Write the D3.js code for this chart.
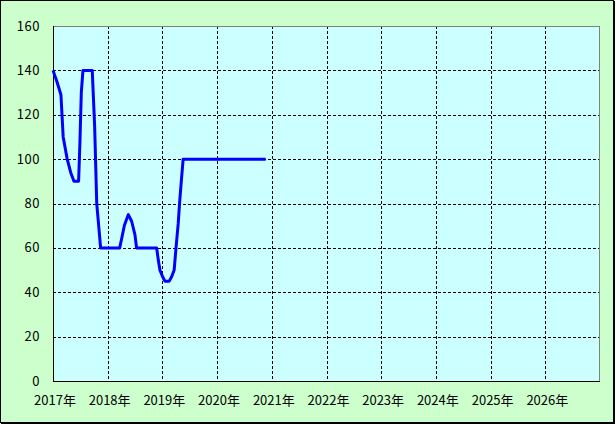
<!DOCTYPE html>
<html>
<head>
<meta charset="utf-8">
<script src="https://cdn.jsdelivr.net/npm/d3@7"></script>
<style>
  body { margin: 0; background: #fff; }
  svg text { font-family: "Noto Sans CJK JP", "Noto Sans", sans-serif; font-size: 13px; fill: #000; }
</style>
</head>
<body>
<div id="chart"></div>
<script>
// price history (date, value)
const dates = ["2017-01-01", "2017-01-27", "2017-02-23", "2017-03-10", "2017-04-06", "2017-04-29",
    "2017-05-21", "2017-06-21", "2017-06-30", "2017-07-09", "2017-07-20", "2017-09-20",
    "2017-10-06", "2017-10-20", "2017-11-15", "2018-03-22", "2018-04-04", "2018-04-22",
    "2018-05-08", "2018-05-19", "2018-06-10", "2018-07-02", "2018-07-13", "2018-11-24",
    "2018-12-05", "2018-12-16", "2019-01-03", "2019-01-18", "2019-02-16", "2019-03-04",
    "2019-03-21", "2019-04-01", "2019-04-17", "2019-04-28", "2019-05-10", "2019-05-20",
    "2020-11-21"];
const values = [140, 135, 129, 110, 100, 94,
    90, 90, 108, 130, 140, 140,
    115, 80, 60, 60, 64, 70,
    73, 75, 72, 66, 60, 60,
    54.5, 50, 47, 45, 45, 47,
    50, 59, 71, 82, 92, 100,
    100];
const yTicks = [0, 20, 40, 60, 80, 100, 120, 140, 160];
const yearTicks = [2017, 2018, 2019, 2020, 2021, 2022, 2023, 2024, 2025, 2026];

const W = 615, H = 424;
const margin = { top: 26, right: 15, bottom: 43, left: 53 };
const width = W - margin.left - margin.right;
const height = H - margin.top - margin.bottom;

const parse = d3.timeParse("%Y-%m-%d");
const data = dates.map((d, i) => ({ date: parse(d), value: values[i] }));

const svg = d3.select("#chart").append("svg")
    .attr("width", W).attr("height", H);

// outer background + frame
svg.append("rect").attr("x", 0).attr("y", 0).attr("width", W).attr("height", H)
    .attr("fill", "#ccffcc");
svg.append("rect").attr("x", 0.5).attr("y", 0.5).attr("width", W - 2).attr("height", H - 2)
    .attr("fill", "none").attr("stroke", "#000").attr("stroke-width", 1);
svg.append("line").attr("x1", W - 0.5).attr("x2", W - 0.5).attr("y1", 1).attr("y2", H)
    .attr("stroke", "#000");
svg.append("line").attr("x1", 1).attr("x2", W).attr("y1", H - 0.5).attr("y2", H - 0.5)
    .attr("stroke", "#000");

const x = d3.scaleTime()
    .domain([new Date(2017, 0, 1), new Date(2027, 0, 1)])
    .range([0, width]);
const y = d3.scaleLinear().domain([0, 160]).range([height, 0]);

const g = svg.append("g").attr("transform", "translate(" + margin.left + "," + margin.top + ")");

g.append("rect").attr("width", width).attr("height", height).attr("fill", "#ccffff");

// grid
g.append("g").selectAll("line")
    .data(yTicks.filter(t => t > 0 && t < 160))
    .join("line")
    .attr("x1", 0).attr("x2", width)
    .attr("y1", d => Math.round(y(d)) + 0.5).attr("y2", d => Math.round(y(d)) + 0.5)
    .attr("stroke", "#000").attr("stroke-dasharray", "3,2");
g.append("g").selectAll("line")
    .data(yearTicks.slice(1))
    .join("line")
    .attr("x1", d => Math.round(x(new Date(d, 0, 1))) + 0.5)
    .attr("x2", d => Math.round(x(new Date(d, 0, 1))) + 0.5)
    .attr("y1", 0).attr("y2", height)
    .attr("stroke", "#000").attr("stroke-dasharray", "3,2");

// plot frame: top/right gray, left/bottom black
g.append("line").attr("x1", 0).attr("x2", width).attr("y1", 0.5).attr("y2", 0.5).attr("stroke", "#808080");
g.append("line").attr("x1", width - 0.5).attr("x2", width - 0.5).attr("y1", 0).attr("y2", height).attr("stroke", "#808080");
g.append("line").attr("x1", 0.5).attr("x2", 0.5).attr("y1", 0).attr("y2", height + 0.5).attr("stroke", "#000");
g.append("line").attr("x1", 0).attr("x2", width).attr("y1", height + 0.5).attr("y2", height + 0.5).attr("stroke", "#000");

// axis labels
g.append("g").selectAll("text")
    .data(yTicks)
    .join("text")
    .attr("x", -13).attr("y", d => y(d))
    .attr("dy", "0.35em")
    .attr("text-anchor", "end")
    .attr("letter-spacing", "0.5px")
    .text(d => d);

g.append("g").selectAll("text")
    .data(yearTicks)
    .join("text")
    .attr("x", d => x(new Date(d, 0, 1)) + 2)
    .attr("y", height + 19)
    .attr("dy", "0.35em")
    .attr("text-anchor", "middle")
    .text(d => d + "年");

// line
let lineGen = d3.line()
    .x(d => x(d.date))
    .y(d => y(d.value));

g.append("path")
    .datum(data)
    .attr("fill", "none")
    .attr("stroke", "#0000ff")
    .attr("stroke-width", 3)
    .attr("stroke-linejoin", "round")
    .attr("d", lineGen);
</script>
</body>
</html>
